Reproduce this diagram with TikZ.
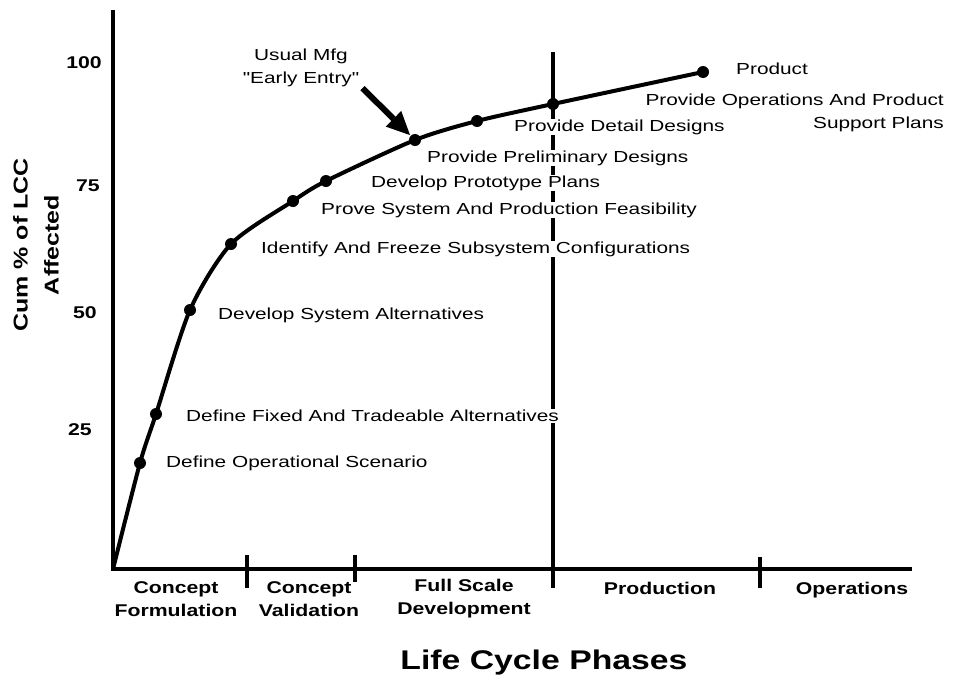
\documentclass[tikz,border=0pt]{standalone}
\usepackage{fontspec}
\setmainfont{Liberation Sans}
\newfontfamily\lblfont[FakeStretch=1.3]{Liberation Sans}
\newfontfamily\phfont[FakeStretch=1.25]{Liberation Sans}
\usetikzlibrary{arrows.meta}

\begin{document}
\begin{tikzpicture}[x=1pt,y=-1pt,
		dot/.style={circle,fill=black,inner sep=0pt,minimum size=12pt},
		lbl/.style={anchor=west,fill=white,inner sep=1pt,
			font=\lblfont\fontsize{16}{23}\selectfont},
		phase/.style={align=center,inner sep=0pt,
			font=\phfont\bfseries\fontsize{17}{23}\selectfont},
		axis/.style={line width=4pt},
		tick/.style={line width=3.5pt}
		]
		\useasboundingbox (0,0) rectangle (956,683);
		% axes and phase boundaries
		\coordinate (orig) at (113, 569);
		\coordinate (ytop) at (113, 10);
		\coordinate (xend) at (912, 569);
		\coordinate (t1a) at (247, 555);
		\coordinate (t1b) at (247, 588);
		\coordinate (t2a) at (355, 555);
		\coordinate (t2b) at (355, 582);
		\coordinate (t3a) at (553, 52);
		\coordinate (t3b) at (553, 588);
		\coordinate (t4a) at (760, 557);
		\coordinate (t4b) at (760, 588);
		\draw[axis] (ytop) -- (orig) -- (xend);
		\draw[tick] (t1a) -- (t1b);
		\draw[tick] (t2a) -- (t2b);
		\draw[tick] (t3a) -- (t3b);
		\draw[tick] (t4a) -- (t4b);
		% tick values
		\node[phase] (v100) at (84, 63) {100};
		\node[phase] (v75) at (88, 186) {75};
		\node[phase] (v50) at (85, 313) {50};
		\node[phase] (v25) at (80, 430) {25};
		\node[phase,rotate=90,font=\phfont\bfseries\fontsize{20}{31}\selectfont]
			(ytitle) at (36, 245) {Cum \% of LCC\\Affected};
		% phases
		\node[phase] (cf) at (176, 599) {Concept\\Formulation};
		\node[phase] (cv) at (309, 599) {Concept\\Validation};
		\node[phase] (fsd) at (464, 599) {Full Scale\\Development};
		\node[phase] (prod) at (660, 588) {Production};
		\node[phase] (ops) at (852, 590) {Operations};
		\node[phase,font=\phfont\bfseries\fontsize{27}{30}\selectfont]
			(lcp) at (544, 663) {Life Cycle Phases};
		% activities
		\node[lbl,anchor=east,align=right,fill=none] (l9) at (945, 113) {Provide Operations And Product\\Support Plans};
		\node[lbl] (l1) at (165, 463) {Define Operational Scenario};
		\node[lbl] (l2) at (185, 416) {Define Fixed And Tradeable Alternatives};
		\node[lbl] (l3) at (217, 315) {Develop System Alternatives};
		\node[lbl] (l4) at (260, 249) {Identify And Freeze Subsystem Configurations};
		\node[lbl] (l5) at (320, 210) {Prove System And Production Feasibility};
		\node[lbl] (l6) at (370, 183) {Develop Prototype Plans};
		\node[lbl] (l7) at (426, 158) {Provide Preliminary Designs};
		\node[lbl] (l8) at (513, 127) {Provide Detail Designs};
		\node[lbl] (l10) at (735, 69) {Product};
		% curve
		\node[dot] (p1) at (140, 463) {};
		\node[dot] (p2) at (156, 414) {};
		\node[dot] (p3) at (190, 310) {};
		\node[dot] (p4) at (231, 244) {};
		\node[dot] (p5) at (293, 201) {};
		\node[dot] (p6) at (326, 181) {};
		\node[dot] (p7) at (415, 140) {};
		\node[dot] (p8) at (477, 121) {};
		\node[dot] (p9) at (553, 104) {};
		\node[dot] (p10) at (703, 72) {};
		\draw[line width=4pt,line join=round]
			plot[smooth,tension=0.45] coordinates {(orig) (p1) (p2) (p3) (p4) (p5) (p6) (p7) (p8) (p9) (p10)};
		% early entry
		\node[lbl,anchor=center,align=center,fill=none] (mfg) at (301, 68) {Usual Mfg\\"Early Entry"};
		\draw[line width=6pt,-{Triangle[length=24pt,width=20pt]}] (mfg.south east) ++(2,0) coordinate (ar) (ar) to (p7);
		\end{tikzpicture}
\end{document}
